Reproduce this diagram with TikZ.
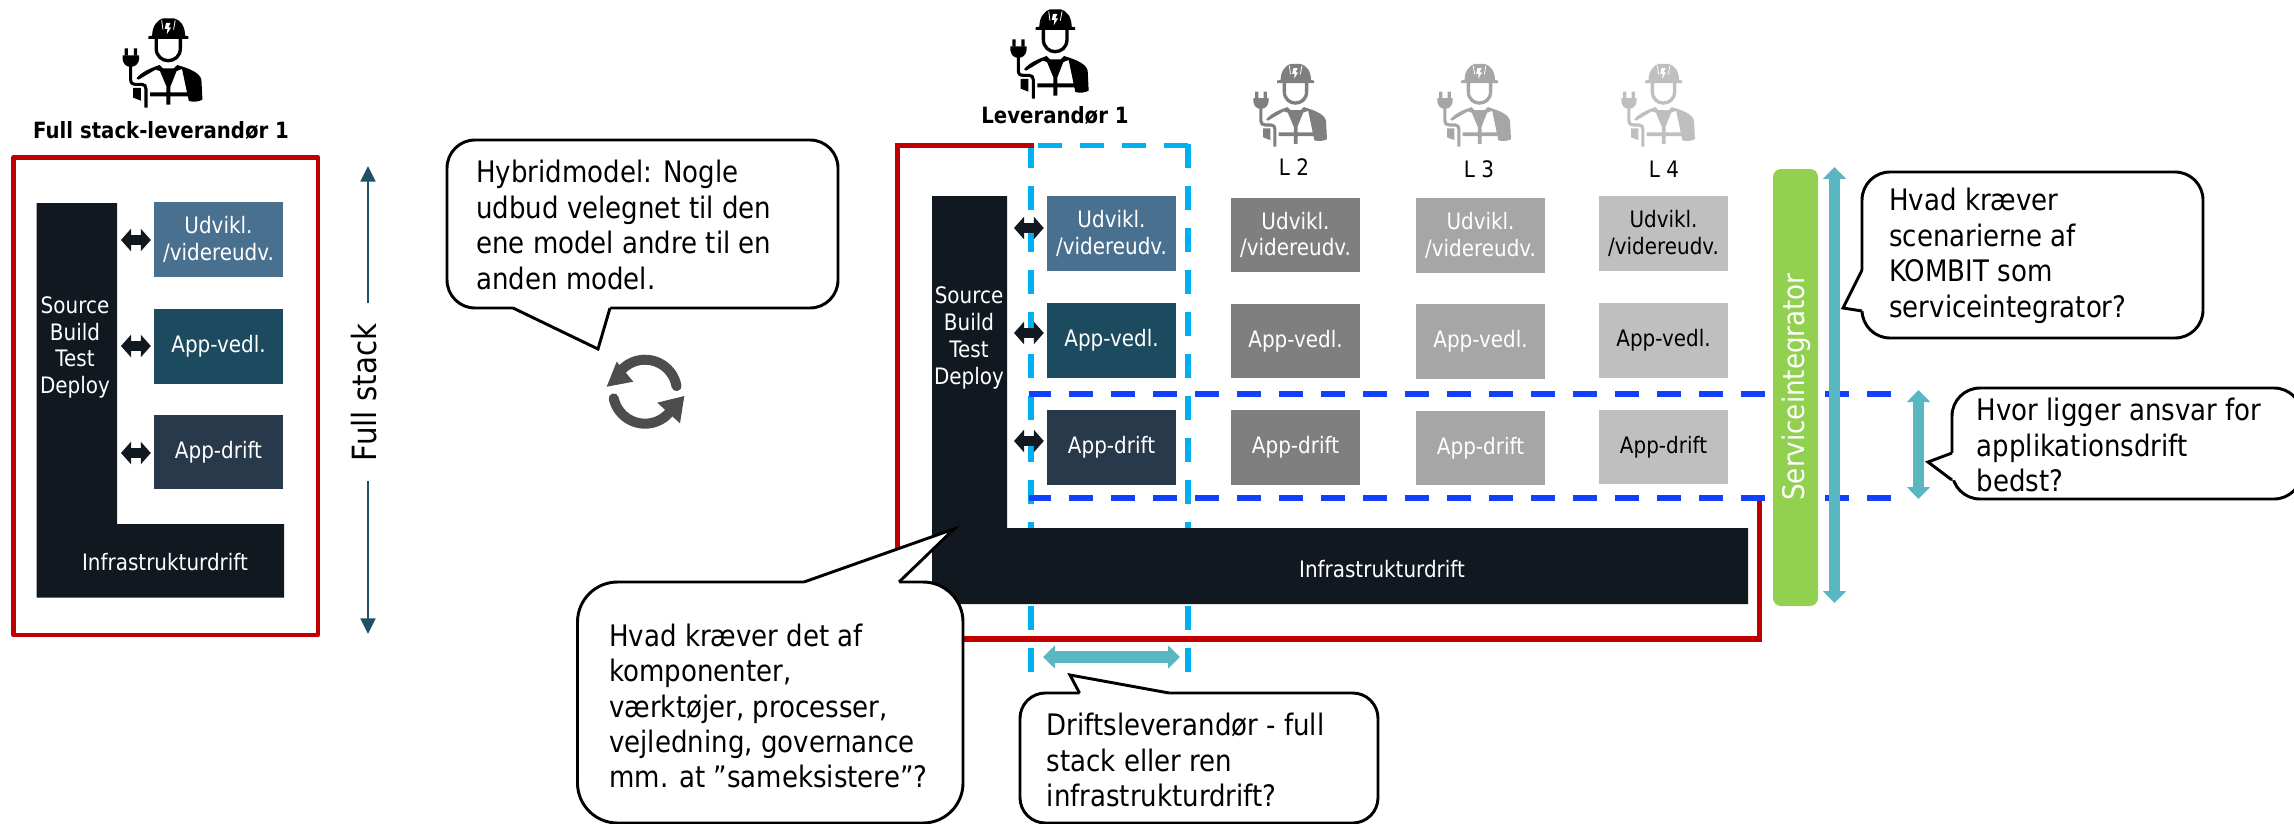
\documentclass[tikz,border=0pt]{standalone}
\usepackage{fontspec}
\setmainfont{DejaVu Sans}[FakeStretch=0.88]
\usetikzlibrary{arrows.meta}
\definecolor{inkdark}{HTML}{111820}
\definecolor{ubox}{HTML}{4A7090}
\definecolor{vbox}{HTML}{1C4A5E}
\definecolor{dbox}{HTML}{27394A}
\definecolor{gtwo}{HTML}{7F7F7F}
\definecolor{gthree}{HTML}{A6A6A6}
\definecolor{gfour}{HTML}{BFBFBF}
\definecolor{redline}{HTML}{C00000}
\definecolor{lblue}{HTML}{00B0F0}
\definecolor{dblue}{HTML}{1240FF}
\definecolor{teal}{HTML}{5AB6C1}
\definecolor{fsarrow}{HTML}{1F5068}
\definecolor{sgreen}{HTML}{92D050}
\definecolor{syncgray}{HTML}{4D4D4D}
\newcommand{\boxfont}{\fontsize{17}{20.1}\selectfont}
\newcommand{\calloutfont}{\fontsize{22.2}{26.6}\selectfont}
\tikzset{
  wbox/.style={inner sep=0pt,minimum width=96.75pt,minimum height=56pt,text=white,align=center,font=\boxfont},
  ctext/.style={inner sep=0pt,anchor=west,align=left,font=\calloutfont,text=black},
  cout/.style={draw=black,fill=white,line width=2.2pt,line join=round},
  blackarrow/.style={draw=inkdark,line width=8pt,{Triangle[width=16.5pt,length=7.5pt]}-{Triangle[width=16.5pt,length=7.5pt]},shorten <=3pt,shorten >=2.2pt},
  tealarrow/.style={draw=teal,line width=8.5pt,{Triangle[width=17pt,length=9pt]}-{Triangle[width=17pt,length=9pt]}},
  fsline/.style={draw=fsarrow,line width=2.2pt,-{Triangle[width=11pt,length=11.7pt]}},
  lbdash/.style={draw=lblue,line width=4.3pt,dash pattern=on 18pt off 13.5pt},
  dbdash/.style={draw=dblue,line width=4pt,dash pattern=on 18pt off 13.5pt},
}
% a callout's pointer: base point, tip, base point, and a vector into the box
\newcommand{\ctail}[8]{%
 \fill[white] ({#1+#7},{#2+#8}) -- (#1,#2) -- (#3,#4) -- (#5,#6) -- ({#5+#7},{#6+#8}) -- cycle;
 \draw[black,line width=2.2pt,line join=miter] (#1,#2) -- (#3,#4) -- (#5,#6);}
\newcommand{\worker}[5]{%
\begin{scope}[shift={(#1,#2)},x=#3*.25pt,y=-#4*.25pt]
 % helmet
 \fill[#5] (118,80) .. controls (118,50) and (135,32) .. (150,28) -- (182,28) .. controls (200,32) and (215,50) .. (215,80) -- (225,82) -- (225,90) -- (107,90) -- (107,82) -- cycle;
 \fill[white] (159,42) -- (172,42) -- (166,55) -- (174,55) -- (161,76) -- (163,60) -- (155,60) -- cycle;
 \draw[white,line width=.6pt] (146,34) -- (150,62) (186,34) -- (181,62);
 % face
 \draw[#5,line width=2.5pt] (130,90) -- (130,118) .. controls (130,142) and (148,155) .. (165,155) .. controls (184,155) and (201,142) .. (201,118) -- (201,90);
 % body
 \fill[#5] (72,208) .. controls (88,188) and (112,178) .. (140,168) -- (150,178) -- (182,178) -- (192,168) .. controls (225,178) and (258,190) .. (263,212) -- (266,272) .. controls (255,278) and (240,280) .. (226,276) -- (206,180) -- (190,186) -- (172,232) -- (172,250) -- (230,250) -- (230,262) -- (172,262) -- (172,287) -- (160,287) -- (160,262) -- (112,262) -- (112,250) -- (160,250) -- (160,232) -- (141,186) -- (128,182) -- (78,212) -- cycle;
 \fill[#5] (62,237) -- (85,237) -- (85,275) -- (62,266) -- cycle;
 % plug and cable
 \fill[#5] (31,139) -- (80,139) -- (80,150) .. controls (78,165) and (68,172) .. (60,173) -- (50,173) .. controls (42,172) and (33,165) .. (31,150) -- cycle;
 \fill[#5] (37,118) rectangle (47,140) (64,118) rectangle (74,140);
 \draw[#5,line width=2.3pt] (55,170) -- (55,212) .. controls (55,222) and (60,226) .. (70,226) -- (88,226) .. controls (96,226) and (100,232) .. (100,240) -- (100,296);
\end{scope}}
\begin{document}
\begin{tikzpicture}[x=.75pt,y=-.75pt]
\useasboundingbox (0,0) rectangle (2294,824);
% ---------- left panel
\worker{112}{9}{1.02}{1}{black}
\node[inner sep=0pt,font=\fontsize{16.8}{19}\selectfont\bfseries] (lblfull) at (161,130.5) {Full stack-leverandør 1};
\draw[redline,line width=3.6pt,line join=round] (13.5,157.5) rectangle (318,635);
\fill[inkdark] (36.5,203) -- (117,203) -- (117,524) -- (284,524) -- (284,597.5) -- (36.5,597.5) -- cycle;
\node[inner sep=0pt,text=white,align=center,font=\boxfont] (srcA) at (75,347.5) {Source\\Build\\Test\\Deploy};
\node[inner sep=0pt,text=white,font=\boxfont] (infA) at (165,562) {Infrastrukturdrift};
\node[wbox,fill=ubox] (uA) at (218.5,239.5) {Udvikl.\\/videreudv.};
\node[wbox,fill=vbox] (vA) at (218.5,346.5) {App-vedl.};
\node[wbox,fill=dbox] (dA) at (218.5,452) {App-drift};
\coordinate (aA1) at (117,240);
\coordinate (aA2) at (117,346);
\coordinate (aA3) at (117,453);
\draw[blackarrow] (aA1) -- (uA.west |- aA1);
\draw[blackarrow] (aA2) -- (vA.west |- aA2);
\draw[blackarrow] (aA3) -- (dA.west |- aA3);
\node[inner sep=0pt,rotate=90,font=\fontsize{25}{30}\selectfont] (fs) at (364,392.5) {Full stack};
\coordinate (fsT0) at (368,303);
\coordinate (fsT1) at (368,166);
\coordinate (fsB0) at (368,481);
\coordinate (fsB1) at (368,634);
\draw[fsline] (fsT0) -- (fsT1);
\draw[fsline] (fsB0) -- (fsB1);
% ---------- hybrid callout + sync icon
\draw[cout,rounded corners=21pt] (447,140) rectangle (838,308);
\ctail{513}{308}{598}{349}{610}{308}{0}{-3}
\node[ctext] (hyb) at (476,225) {Hybridmodel: Nogle\\udbud velegnet til den\\ene model andre til en\\anden model.};
\draw[syncgray,line width=7.5pt,line cap=round] plot[domain=10:140,samples=20] ({645+32*cos(\x)},{391.7-32*sin(\x)});
\draw[syncgray,line width=7.5pt,line cap=round] plot[domain=192:318,samples=20] ({645+32*cos(\x)},{391.7-32*sin(\x)});
\fill[syncgray] (606.7,386.7) -- (633.3,381.7) -- (616.7,361.7) -- cycle;
\fill[syncgray] (684.3,396) -- (657.3,402.7) -- (680,423.3) -- cycle;
% ---------- right panel: frames
\draw[redline,line width=4pt,line join=miter] (1034,145.5) -- (897.5,145.5) -- (897.5,639) -- (1759.5,639) -- (1759.5,496);
\draw[lbdash] (1031,672) -- (1031,144);
\draw[lbdash] (1188,672) -- (1188,144);
\draw[lbdash] (1038,145.5) -- (1191,145.5);
\draw[redline,line width=4pt] (1026,145.5) -- (1034,145.5);
% boxes
\fill[inkdark] (932,196) -- (1007,196) -- (1007,528) -- (1748,528) -- (1748,604) -- (932,604) -- cycle;
\node[inner sep=0pt,text=white,align=center,font=\boxfont] (srcB) at (969,338) {Source\\Build\\Test\\Deploy};
\node[inner sep=0pt,text=white,font=\boxfont] (infB) at (1382,569) {Infrastrukturdrift};
\node[wbox,fill=ubox] (uB) at (1111.5,233.5) {Udvikl.\\/videreudv.};
\node[wbox,fill=vbox] (vB) at (1111.5,340.5) {App-vedl.};
\node[wbox,fill=dbox] (dB) at (1111.5,447.5) {App-drift};
\node[wbox,fill=gtwo] (uC) at (1295.5,235) {Udvikl.\\/videreudv.};
\node[wbox,fill=gtwo] (vC) at (1295.5,341) {App-vedl.};
\node[wbox,fill=gtwo] (dC) at (1295.5,447.5) {App-drift};
\node[wbox,fill=gthree] (uD) at (1480.5,235.5) {Udvikl.\\/videreudv.};
\node[wbox,fill=gthree] (vD) at (1480.5,341.5) {App-vedl.};
\node[wbox,fill=gthree] (dD) at (1480.5,448) {App-drift};
\node[wbox,fill=gfour,text=black] (uE) at (1663.5,233.5) {Udvikl.\\/videreudv.};
\node[wbox,fill=gfour,text=black] (vE) at (1663.5,340.5) {App-vedl.};
\node[wbox,fill=gfour,text=black] (dE) at (1663.5,447) {App-drift};
% dashed row
\draw[dbdash] (1029,394) -- (1051,394) (1069,394) -- (1891,394);
\draw[dbdash] (1029,498) -- (1051,498) (1069,498) -- (1891,498);
% workers and labels
\worker{1000}{0}{1}{1}{black}
\node[inner sep=0pt,font=\fontsize{16.8}{19}\selectfont\bfseries] (lblB) at (1055,116) {Leverandør 1};
\worker{1243.6}{55.3}{.94}{.925}{gtwo}
\worker{1427.6}{55.3}{.94}{.925}{gthree}
\worker{1611.6}{55.3}{.94}{.925}{gfour}
\node[inner sep=0pt,font=\boxfont] (l2) at (1294,167) {L 2};
\node[inner sep=0pt,font=\boxfont] (l3) at (1479,169) {L 3};
\node[inner sep=0pt,font=\boxfont] (l4) at (1664,169) {L 4};
% black arrows
\coordinate (aB1) at (1010,228);
\coordinate (aB2) at (1010,333);
\coordinate (aB3) at (1010,441);
\draw[blackarrow] (aB1) -- (uB.west |- aB1);
\draw[blackarrow] (aB2) -- (vB.west |- aB2);
\draw[blackarrow] (aB3) -- (dB.west |- aB3);
% service integrator
\node[fill=sgreen,rounded corners=6pt,minimum width=33.75pt,minimum height=327.75pt,inner sep=0pt] (sbar) at (1795.5,387.5) {};
\node[inner sep=0pt,rotate=90,text=white,font=\fontsize{22.3}{25}\selectfont] (stext) at (1796,387) {Serviceintegrator};
\coordinate (tA0) at (1834.5,167);
\coordinate (tA1) at (1834.5,603);
\draw[tealarrow] (tA0) -- (tA1);
\coordinate (tB0) at (1918.5,390);
\coordinate (tB1) at (1918.5,499);
\draw[tealarrow] (tB0) -- (tB1);
\coordinate (tC0) at (1043,657);
\coordinate (tC1) at (1180,657);
\draw[tealarrow] (tC0) -- (tC1);
% callouts
\draw[cout,rounded corners=21pt] (1862,172) rectangle (2203,338);
\ctail{1862}{270}{1843}{308}{1862}{311}{3}{0}
\node[ctext] (ksv) at (1889,256) {Hvad kræver\\scenarierne af\\KOMBIT som\\serviceintegrator?};
\draw[cout,rounded corners=21pt] (1952,388) rectangle (2302,499);
\ctail{1952}{453}{1928}{462}{1952}{480}{3}{0}
\node[ctext] (hvor) at (1976.5,445) {Hvor ligger ansvar for\\applikationsdrift\\bedst?};
\draw[cout,rounded corners=30pt] (577.5,582) rectangle (963,823);
\ctail{804}{582}{954}{529}{899}{582}{0}{3}
\node[ctext] (hvad) at (609,706) {Hvad kræver det af\\komponenter,\\værktøjer, processer,\\vejledning, governance\\mm. at ”sameksistere”?};
\draw[cout,rounded corners=19pt] (1020,693) rectangle (1378,823);
\ctail{1079.5}{693}{1070}{675}{1169}{693}{0}{3}
\node[ctext] (drf) at (1046.5,760) {Driftsleverandør - full\\stack eller ren\\infrastrukturdrift?};
\end{tikzpicture}
\end{document}
